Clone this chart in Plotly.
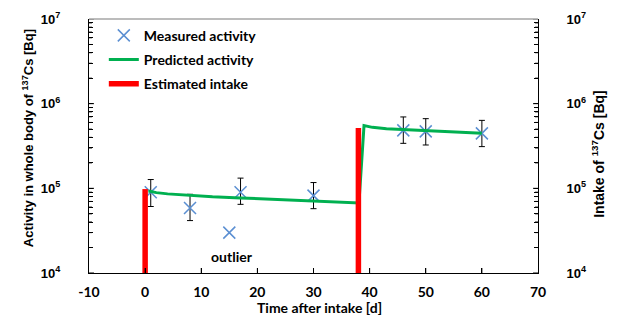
import plotly.graph_objects as go

# ---- data ----
meas_t = [1, 8, 17, 30, 46, 50, 60]
meas_y = [90000, 58500, 90000, 82000, 484000, 471000, 446000]
meas_hi = [127000, 85000, 132000, 117000, 697000, 665000, 635000]
meas_lo = [61000, 41600, 64700, 57500, 340000, 325000, 311000]

outlier_t = [15]
outlier_y = [30000]

pred_t = [0.6, 2, 4, 8, 12, 17, 22, 27, 32, 38.1, 39, 40.5, 43, 46, 50, 55, 60]
pred_y = [93000, 89000, 86000, 82000, 79500, 77000, 74500, 72500, 70000, 67000,
          550000, 525000, 505000, 493000, 476000, 461000, 446000]

intake_t = [0, 38]
intake_y = [98000, 517000]
intake_base = 1e4

x_ticks = [-10, 0, 10, 20, 30, 40, 50, 60, 70]
x_ticktext = ["-10", "0", "10", "20", "30", "40", "50", "60", "70"]
y_major = [1e4, 1e5, 1e6, 1e7]
y_major_text = ["10<sup>4</sup>", "10<sup>5</sup>", "10<sup>6</sup>", "10<sup>7</sup>"]

BLUE = "#5B8FD2"
GREEN = "#00B050"
RED = "#FF0000"
CAL = "Lato, Carlito, sans-serif"
ARI = "Liberation Sans, Arial, sans-serif"

PLOT_W, PLOT_H = 449, 254  # plot-area size in px (for tick lengths)

# major + minor tick positions
y_tickvals = []
for v in y_major:
    y_tickvals.append(v)
    if v < 1e7:
        for k in range(2, 10):
            y_tickvals.append(k * v)

# build intake segments
ix, iy = [], []
for t, v in zip(intake_t, intake_y):
    ix += [t, t, None]
    iy += [intake_base, v, None]

fig = go.Figure()

fig.add_trace(go.Scatter(
    x=meas_t, y=meas_y, mode="markers", name="Measured activity",
    legendgroup="a",
    marker=dict(symbol="x-thin", size=12, color=BLUE, line=dict(color=BLUE, width=1.5)),
    error_y=dict(type="data", symmetric=False,
                 array=[h - y for h, y in zip(meas_hi, meas_y)],
                 arrayminus=[y - l for l, y in zip(meas_lo, meas_y)],
                 color="black", thickness=1, width=3),
))
fig.add_trace(go.Scatter(
    x=outlier_t, y=outlier_y, mode="markers", showlegend=False,
    marker=dict(symbol="x-thin", size=12, color=BLUE, line=dict(color=BLUE, width=1.5)),
))
fig.add_trace(go.Scatter(
    x=pred_t, y=pred_y, mode="lines", name="Predicted activity",
    legendgroup="b",
    line=dict(color=GREEN, width=3),
))
fig.add_trace(go.Scatter(
    x=ix, y=iy, mode="lines", name="Estimated intake", yaxis="y2",
    legendgroup="c",
    line=dict(color=RED, width=5.5),
))
# invisible traces that carry the tick-label axes
fig.add_trace(go.Scatter(x=[None], y=[None], xaxis="x2", yaxis="y3",
                         showlegend=False, hoverinfo="skip"))
fig.add_trace(go.Scatter(x=[None], y=[None], xaxis="x", yaxis="y4",
                         showlegend=False, hoverinfo="skip"))

tick_y = dict(
    type="log", range=[4, 7], tickmode="array", tickvals=y_tickvals,
    ticks="inside", ticklen=4, tickwidth=1, tickcolor="black", automargin=False,
    showticklabels=False,
    showline=True, linecolor="black", linewidth=1.3, showgrid=False, zeroline=False,
)
label_y = dict(
    type="log", range=[4, 7], tickmode="array", tickvals=y_major, ticktext=y_major_text,
    ticks="outside", ticklen=25, tickcolor="rgba(0,0,0,0)", automargin=False,
    showline=False, showgrid=False, zeroline=False, overlaying="y",
    tickfont=dict(family=ARI, size=13, color="black", weight="bold"),
)

# tick marks as thin shapes (guarantees visible inside ticks)
tick_shapes = []
for v in y_tickvals:
    ln = 5 if v in y_major else 3
    for x0, x1 in [(0, ln / PLOT_W), (1 - ln / PLOT_W, 1)]:
        tick_shapes.append(dict(type="line", xref="paper", yref="y", x0=x0, x1=x1,
                                y0=v, y1=v, line=dict(color="black", width=1)))
for v in x_ticks[1:-1]:
    tick_shapes.append(dict(type="line", xref="x", yref="paper", x0=v, x1=v,
                            y0=0, y1=5 / PLOT_H, line=dict(color="black", width=1)))
tick_shapes.append(dict(type="line", xref="paper", yref="paper", x0=0, x1=1, y0=1, y1=1,
                        line=dict(color="#A6A6A6", width=1.5)))

fig.update_layout(
    width=617, height=325,
    margin=dict(l=89, r=79, t=19, b=52, autoexpand=False),
    plot_bgcolor="white", paper_bgcolor="white",
    xaxis=dict(range=[-10, 70], tickmode="array", tickvals=x_ticks,
               ticks="inside", ticklen=5, tickwidth=1, tickcolor="black", automargin=False,
               showticklabels=False,
               showline=True, linecolor="black", linewidth=1.3,
               showgrid=False, zeroline=False),
    xaxis2=dict(range=[-10, 70], tickmode="array", tickvals=x_ticks, ticktext=x_ticktext,
                overlaying="x", side="bottom", anchor="y3",
                ticks="outside", ticklen=6, tickcolor="rgba(0,0,0,0)", automargin=False,
                showline=False, showgrid=False, zeroline=False,
                tickfont=dict(family=CAL, size=14, color="black", weight="bold")),
    yaxis=tick_y,
    yaxis2=dict(tick_y, overlaying="y", side="right"),
    yaxis3=dict(label_y, side="left", anchor="x2"),
    yaxis4=dict(label_y, side="right", anchor="x"),
    showlegend=True,
    legend=dict(x=0.033, y=0.997, xanchor="left", yanchor="top",
                bgcolor="rgba(0,0,0,0)", tracegroupgap=3,
                font=dict(family=CAL, size=14, color="black", weight="bold")),
    shapes=tick_shapes,
    annotations=[
        dict(text="Activity in whole body of <sup>137</sup>Cs [Bq]", xref="paper", yref="paper",
             x=-0.158, y=0.531, textangle=-90, showarrow=False,
             font=dict(family=ARI, size=13, color="black", weight="bold")),
        dict(text="Intake of <sup>137</sup>Cs [Bq]", xref="paper", yref="paper",
             x=1.158, y=0.469, textangle=-90, showarrow=False,
             font=dict(family=ARI, size=14, color="black", weight="bold")),
        dict(text="Time after intake [d]", xref="paper", yref="paper",
             x=0.514, y=-0.177, showarrow=False,
             font=dict(family=CAL, size=14, color="black", weight="bold")),
        dict(text="outlier", x=15.5, y=4.19, xref="x", yref="y", showarrow=False,
             font=dict(family=CAL, size=14, color="black", weight="bold")),
    ],
)

fig.write_html("out.html", config={"displayModeBar": False},
               post_script="document.body.style.margin='0';")
